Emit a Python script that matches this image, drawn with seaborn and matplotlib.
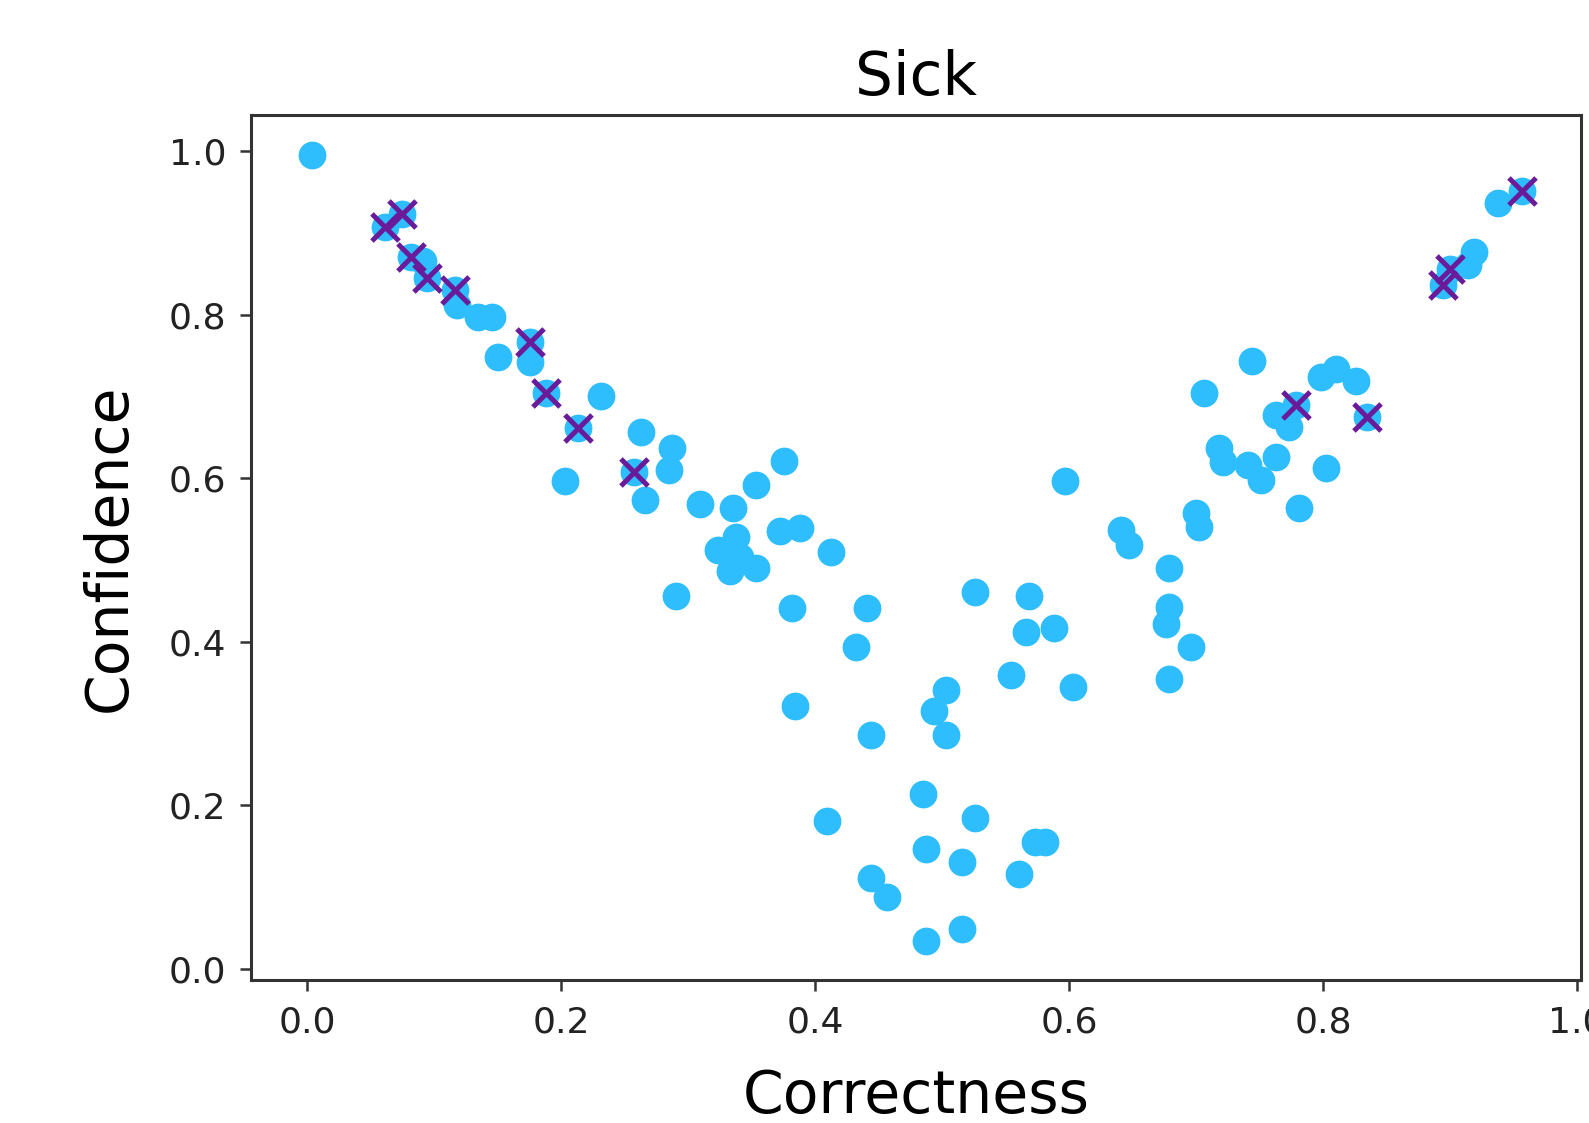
import matplotlib
matplotlib.use("Agg")
import matplotlib.pyplot as plt
import seaborn as sns
import pandas as pd

# all points (circles)
correctness = [0.0037, 0.0614, 0.075, 0.0818, 0.0915, 0.0947, 0.1164, 0.1178, 0.1348, 0.1453,
               0.1755, 0.1505, 0.1755, 0.1878, 0.2318, 0.2130, 0.2633, 0.2874, 0.2848, 0.2573,
               0.2035, 0.2659, 0.3097, 0.335, 0.2905, 0.3755, 0.3538, 0.3721, 0.3879, 0.4128,
               0.3236, 0.338, 0.3328, 0.3407, 0.3538, 0.3818, 0.4411, 0.432, 0.3845, 0.4443,
               0.5033, 0.494, 0.5033, 0.5256, 0.5688, 0.5662, 0.588, 0.5539, 0.6029, 0.5969,
               0.641, 0.6475, 0.6785, 0.6785, 0.676, 0.696, 0.6785, 0.700, 0.7026, 0.4849,
               0.4097, 0.5256, 0.4875, 0.5159, 0.5728, 0.5807, 0.5602, 0.4443, 0.4569, 0.4875,
               0.5159, 0.9565, 0.9373, 0.919, 0.9137, 0.9001, 0.894, 0.744, 0.7065, 0.7983,
               0.8101, 0.8259, 0.7787, 0.7629, 0.7734, 0.8345, 0.7183, 0.721, 0.7406, 0.7629,
               0.751, 0.8026, 0.7812]
confidence = [0.995, 0.907, 0.923, 0.870, 0.865, 0.845, 0.830, 0.812, 0.797, 0.797,
              0.767, 0.748, 0.742, 0.7046, 0.700, 0.661, 0.656, 0.637, 0.610, 0.607,
              0.597, 0.573, 0.568, 0.564, 0.456, 0.621, 0.592, 0.535, 0.539, 0.510,
              0.512, 0.5275, 0.486, 0.5037, 0.490, 0.4415, 0.4415, 0.3935, 0.321, 0.2866,
              0.341, 0.3158, 0.2866, 0.461, 0.4564, 0.4118, 0.417, 0.3594, 0.345, 0.5965,
              0.5362, 0.5188, 0.4904, 0.4424, 0.4214, 0.3935, 0.355, 0.557, 0.5407, 0.214,
              0.1804, 0.1847, 0.1463, 0.131, 0.1555, 0.1555, 0.116, 0.1114, 0.0874, 0.0342,
              0.0494, 0.9515, 0.9368, 0.877, 0.8606, 0.8553, 0.836, 0.7433, 0.7046, 0.724,
              0.734, 0.7188, 0.6895, 0.677, 0.663, 0.675, 0.6365, 0.620, 0.616, 0.6263,
              0.5978, 0.612, 0.5632]

# points marked with an x
marked_correctness = [0.0614, 0.075, 0.0818, 0.0947, 0.1164, 0.1755, 0.1878, 0.2130, 0.2573,
                      0.7787, 0.8345, 0.9001, 0.894, 0.9565]
marked_confidence = [0.907, 0.923, 0.870, 0.845, 0.830, 0.767, 0.7046, 0.661, 0.607,
                     0.6895, 0.675, 0.8553, 0.836, 0.9515]

df = pd.DataFrame({"Correctness": correctness, "Confidence": confidence})
marked = pd.DataFrame({"Correctness": marked_correctness, "Confidence": marked_confidence})

plt.rcParams["font.family"] = "DejaVu Sans"
fig, ax = plt.subplots(figsize=(15.89, 11.23), dpi=100)
fig.subplots_adjust(left=0.158, right=0.995, top=0.898, bottom=0.1273)

sns.scatterplot(data=df, x="Correctness", y="Confidence", ax=ax,
                color="#2ebdfd", s=400, linewidth=0, zorder=2)
sns.scatterplot(data=marked, x="Correctness", y="Confidence", ax=ax,
                color="#6a1b9a", marker="x", s=380, linewidth=3.6, zorder=3)

ax.set_xlim(-0.044, 1.003)
ax.set_ylim(-0.0136, 1.0446)
ax.set_xticks([0.0, 0.2, 0.4, 0.6, 0.8, 1.0])
ax.set_yticks([0.0, 0.2, 0.4, 0.6, 0.8, 1.0])

for sp in ax.spines.values():
    sp.set_linewidth(2.2)
    sp.set_color("#333333")
ax.tick_params(length=8, width=1.8, labelsize=26, pad=10, colors="#333333",
               labelcolor="#222222")

ax.set_title("Sick", fontsize=43, pad=14)
ax.set_xlabel("Correctness", fontsize=42, labelpad=21)
ax.set_ylabel("Confidence", fontsize=42, labelpad=22)

fig.savefig("out.png", dpi=100)
